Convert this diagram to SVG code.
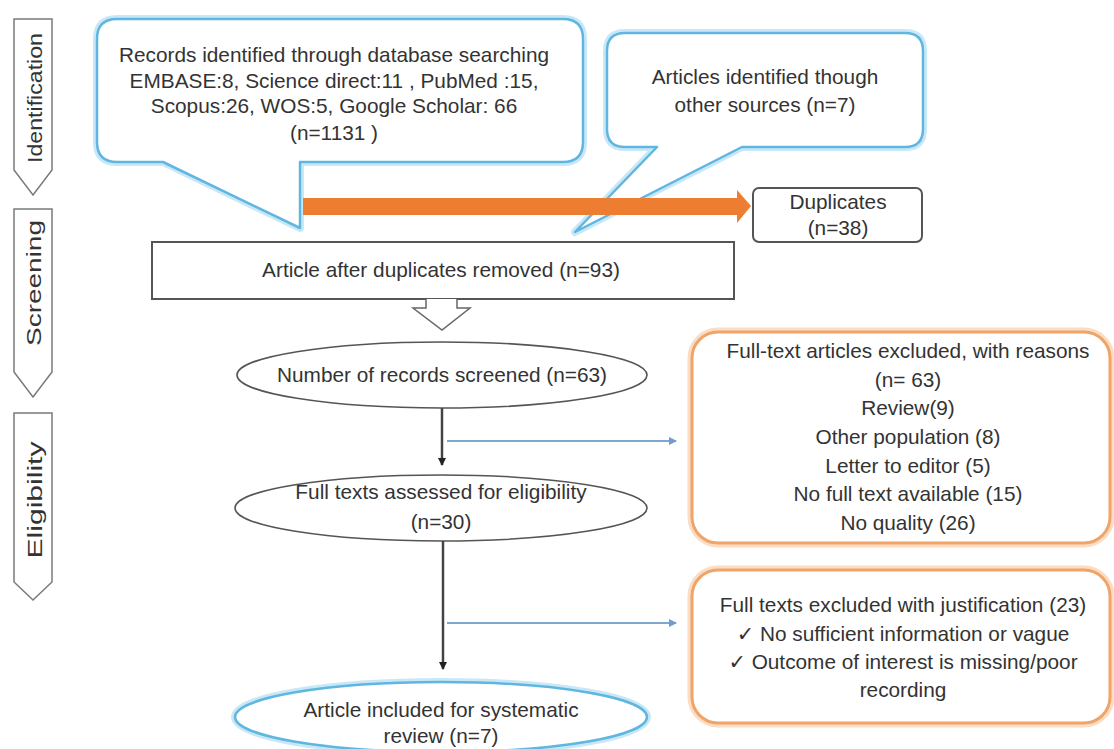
<svg xmlns="http://www.w3.org/2000/svg" width="1114" height="749" viewBox="0 0 1114 749">
<defs>
<style>
text{font-family:"Liberation Sans","DejaVu Sans",sans-serif;font-size:20.8px;fill:#333;text-anchor:middle}
.stage{fill:#fff;stroke:#7a7a7a;stroke-width:1.5}
.cg{fill:none;stroke:#c9e8f7;stroke-width:8;stroke-linejoin:round}
.cb{fill:#fff;stroke:#5fb6e0;stroke-width:2.5;stroke-linejoin:round}
.og{fill:none;stroke:#fbdcc4;stroke-width:9}
.ob{fill:#fff;stroke:#f0a467;stroke-width:3}
.box{fill:#fff;stroke:#555;stroke-width:2}
.ell{fill:#fff;stroke:#555;stroke-width:1.6}
.dark{stroke:#444;stroke-width:2.5;fill:none}
.blue{stroke:#7fa6cf;stroke-width:2;fill:none}
</style>
<marker id="ah" markerWidth="8" markerHeight="8" refX="7" refY="4" orient="auto" markerUnits="userSpaceOnUse">
<path d="M0,0 L8,4 L0,8 Z" fill="#222"/>
</marker>
<marker id="bh" markerWidth="8" markerHeight="8" refX="7" refY="4" orient="auto" markerUnits="userSpaceOnUse">
<path d="M0,0 L8,4 L0,8 Z" fill="#6f9ccc"/>
</marker>
</defs>
<rect width="1114" height="749" fill="#fff"/>

<g id="stage-identification">
<polygon class="stage" points="14,19 52,19 52,170 33,195 14,170"/>
<text transform="translate(42,98) rotate(-90)" font-size="22" textLength="130" lengthAdjust="spacingAndGlyphs">Identification</text>
</g>
<g id="stage-screening">
<polygon class="stage" points="14,209 52,209 52,372 33,397 14,372"/>
<text transform="translate(41,283) rotate(-90)" font-size="19" textLength="126" lengthAdjust="spacingAndGlyphs">Screening</text>
</g>
<g id="stage-eligibility">
<polygon class="stage" points="14,413 52,413 52,582 33,600 14,582"/>
<text transform="translate(42,500) rotate(-90)" font-size="27" textLength="117" lengthAdjust="spacingAndGlyphs">Eligibility</text>
</g>

<g id="node-database">
<path class="cg" d="M117 19 H563 Q583 19 583 39 V142 Q583 162 563 162 H300 V228 L163 162 H117 Q97 162 97 142 V39 Q97 19 117 19 Z"/>
<path class="cb" d="M117 19 H563 Q583 19 583 39 V142 Q583 162 563 162 H300 V228 L163 162 H117 Q97 162 97 142 V39 Q97 19 117 19 Z"/>
<text x="334" y="62">Records identified through database searching</text>
<text x="334" y="88">EMBASE:8, Science direct:11 , PubMed :15,</text>
<text x="334" y="113">Scopus:26, WOS:5, Google Scholar: 66</text>
<text x="334" y="140">(n=1131 )</text>
</g>

<g id="node-other">
<path class="cg" d="M625 33 H905 Q923 33 923 51 V129 Q923 147 905 147 H742 L575 232 L657 147 H625 Q607 147 607 129 V51 Q607 33 625 33 Z"/>
<path class="cb" d="M625 33 H905 Q923 33 923 51 V129 Q923 147 905 147 H742 L575 232 L657 147 H625 Q607 147 607 129 V51 Q607 33 625 33 Z"/>
<text x="765" y="84" font-size="21.5">Articles identified though</text>
<text x="765" y="112" font-size="21.5">other sources (n=7)</text>
</g>

<g id="node-duplicates">
<rect class="box" x="753" y="188" width="169" height="54" rx="6" stroke-width="1.6"/>
<text x="838" y="209">Duplicates</text>
<text x="838" y="235">(n=38)</text>
</g>

<g id="node-after">
<rect class="box" x="152" y="242" width="582" height="57"/>
<text x="441" y="277">Article after duplicates removed (n=93)</text>
</g>

<g id="node-screened">
<ellipse class="ell" cx="442" cy="375" rx="205" ry="33"/>
<text x="442" y="382">Number of records screened (n=63)</text>
</g>

<g id="node-fulltexts">
<ellipse class="ell" cx="441" cy="508" rx="206" ry="33"/>
<text x="441" y="499">Full texts assessed for eligibility</text>
<text x="441" y="529">(n=30)</text>
</g>

<g id="node-included">
<ellipse cx="441" cy="717" rx="206" ry="35" fill="none" stroke="#c9e8f7" stroke-width="8"/>
<ellipse cx="441" cy="717" rx="206" ry="35" fill="#fff" stroke="#5fb6e0" stroke-width="2.5"/>
<text x="441" y="717">Article included for systematic</text>
<text x="441" y="743">review (n=7)</text>
</g>

<g id="node-excluded1">
<rect class="og" x="692" y="332" width="418" height="211" rx="26"/>
<rect class="ob" x="692" y="332" width="418" height="211" rx="26"/>
<text x="908" y="358">Full-text articles excluded, with reasons</text>
<text x="908" y="387">(n= 63)</text>
<text x="908" y="415">Review(9)</text>
<text x="908" y="444">Other population (8)</text>
<text x="908" y="473">Letter to editor (5)</text>
<text x="908" y="501">No full text available (15)</text>
<text x="908" y="530">No quality (26)</text>
</g>

<g id="node-excluded2">
<rect class="og" x="692" y="570" width="418" height="153" rx="26"/>
<rect class="ob" x="692" y="570" width="418" height="153" rx="26"/>
<text x="903" y="612">Full texts excluded with justification (23)</text>
<text x="903" y="641">✓ No sufficient information or vague</text>
<text x="903" y="669">✓ Outcome of interest is missing/poor</text>
<text x="903" y="697">recording</text>
</g>

<g id="connectors">
<polygon points="303,198 737,198 737,190 751,206 737,223 737,215 303,215" fill="#ed7d31"/>
<path d="M426,299 V308 H413 L442,330 L470,308 H457 V299" fill="#fff" stroke="#666" stroke-width="1.5"/>
<line class="dark" x1="442" y1="408" x2="442" y2="465" marker-end="url(#ah)"/>
<line class="blue" x1="447" y1="441" x2="676" y2="441" marker-end="url(#bh)"/>
<line class="dark" x1="443" y1="541" x2="443" y2="669" marker-end="url(#ah)"/>
<line class="blue" x1="447" y1="623" x2="676" y2="623" marker-end="url(#bh)"/>
</g>
</svg>
